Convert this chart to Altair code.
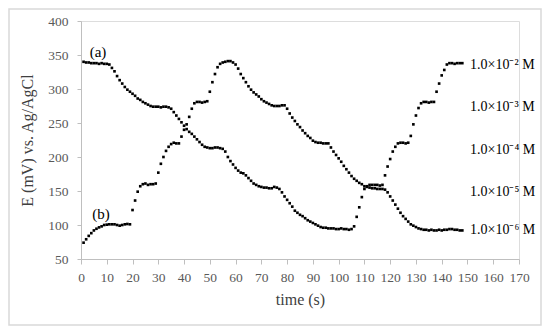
import altair as alt
import pandas as pd

time_s = list(range(1, 149))

curve_a = [340, 339, 339, 338, 338, 338, 337, 338, 337, 337,
           336, 331, 326, 319, 313, 308, 303, 299, 296, 293,
           290, 286, 284, 281, 279, 277, 275, 274, 274, 274,
           273, 274, 274, 273, 271, 266, 261, 256, 251, 246,
           241, 237, 234, 230, 226, 222, 218, 215, 214, 213,
           213, 214, 214, 213, 212, 208, 200, 194, 189, 184,
           180, 177, 176, 173, 169, 165, 161, 159, 157, 156,
           155, 155, 154, 154, 156, 155, 153, 148, 142, 137,
           132, 127, 121, 118, 115, 113, 110, 107, 105, 103,
           101, 99, 97, 96, 96, 95, 95, 95, 94, 94,
           95, 94, 94, 93, 94, 98, 112, 126, 141, 153,
           157, 159, 159, 159, 159, 158, 159, 173, 186, 197,
           208, 215, 220, 221, 221, 220, 221, 231, 248, 261,
           272, 279, 281, 281, 280, 281, 281, 296, 308, 320,
           328, 336, 338, 338, 337, 338, 338, 338]

curve_b = [74, 79, 84, 88, 92, 94.5, 96.5, 98, 100, 100.5,
           101, 101, 101, 100, 99, 100, 101, 101.5, 101, 122,
           136, 149, 157, 160, 161, 159, 160, 160, 161, 177,
           190, 200, 209, 215, 219, 221, 220, 220, 230, 240,
           248, 259, 271, 279, 281, 281, 280, 281, 282, 296,
           310, 322, 332, 337, 339, 340, 341, 341, 339, 336,
           330, 322, 316, 310, 304, 299, 295, 292, 289, 285,
           282, 280, 278, 276, 275, 275, 275, 276, 276, 271,
           264, 258, 253, 248, 244, 239, 235, 231, 228, 224,
           222, 221, 221, 220, 220, 220, 214, 208, 203, 198,
           193, 187, 182, 177, 172, 168, 165, 162, 160, 157,
           156, 155, 154, 154, 153, 153, 153, 152, 148, 142,
           136, 130, 124, 118, 113, 109, 105, 101, 99, 97,
           95, 94, 93, 93, 92, 93, 92, 92, 93, 92,
           93, 93, 94, 94, 93, 93, 92, 92]

series_labels = ["(a)", "(b)"]
series_label_t = [6.6, 7.8]
series_label_e = [354, 116]

conc_labels = ["1.0×10⁻² M", "1.0×10⁻³ M", "1.0×10⁻⁴ M", "1.0×10⁻⁵ M", "1.0×10⁻⁶ M"]
conc_label_t = [151, 151, 151, 151, 151]
conc_label_e = [336, 273, 210, 149, 93]

x_ticks = list(range(0, 171, 10))
y_ticks = list(range(50, 401, 50))

df = pd.DataFrame({
    "t": time_s * 2,
    "E": curve_a + curve_b,
    "curve": ["a"] * len(curve_a) + ["b"] * len(curve_b),
})
df_lab = pd.DataFrame({"t": series_label_t, "E": series_label_e, "text": series_labels})
df_conc = pd.DataFrame({"t": conc_label_t, "E": conc_label_e, "text": conc_labels})

FONT = "'Times New Roman', 'Liberation Serif', Times, serif"

xscale = alt.Scale(domain=[0, 170], nice=False, zero=False)
yscale = alt.Scale(domain=[50, 400], nice=False, zero=False)

xaxis = alt.Axis(values=x_ticks, title="time (s)", grid=False, labelOverlap=False,
                 labelFlush=False,
                 domainColor="#bfbfbf", tickColor="#bfbfbf", tickSize=5,
                 labelColor="#595959", labelFont=FONT, labelFontSize=13.5,
                 labelPadding=6, titleFont=FONT, titleFontSize=16,
                 titleFontWeight="normal", titleColor="#404040", titlePadding=8)
yaxis = alt.Axis(values=y_ticks, title="E (mV) vs. Ag/AgCl", grid=False, labelOverlap=False,
                 labelFlush=False,
                 domainColor="#bfbfbf", tickColor="#bfbfbf", tickSize=4,
                 labelColor="#595959", labelFont=FONT, labelFontSize=13.5,
                 labelPadding=9, titleFont=FONT, titleFontSize=16,
                 titleFontWeight="normal", titleColor="#404040", titlePadding=12)

points = alt.Chart(df).mark_square(size=7, color="black", opacity=1).encode(
    x=alt.X("t:Q", scale=xscale, axis=xaxis),
    y=alt.Y("E:Q", scale=yscale, axis=yaxis),
    detail="curve:N",
)

labels = alt.Chart(df_lab).mark_text(font=FONT, fontSize=15, color="black").encode(
    x=alt.X("t:Q", scale=xscale, axis=xaxis), y=alt.Y("E:Q", scale=yscale, axis=yaxis),
    text="text:N")

conc = alt.Chart(df_conc).mark_text(font=FONT, fontSize=14, color="black",
                                    align="left").encode(
    x=alt.X("t:Q", scale=xscale, axis=xaxis), y=alt.Y("E:Q", scale=yscale, axis=yaxis),
    text="text:N")

frame = alt.Chart(pd.DataFrame({"k": [0]})).mark_rect(
    fill=None, stroke="#d9d9d9", strokeWidth=1.5).encode(
    x=alt.value(-72), x2=alt.value(460), y=alt.value(-12), y2=alt.value(304))

chart = alt.layer(frame, points, labels, conc).properties(
    width=438, height=238,
    autosize=alt.AutoSizeParams(type="none"),
    padding={"left": 73, "top": 13, "right": 23, "bottom": 67},
).configure_view(stroke=None).configure_axis(labelOverlap=False, labelFlush=False).configure(background="white")

chart.save("out.html", embed_options={"renderer": "svg", "actions": False})
